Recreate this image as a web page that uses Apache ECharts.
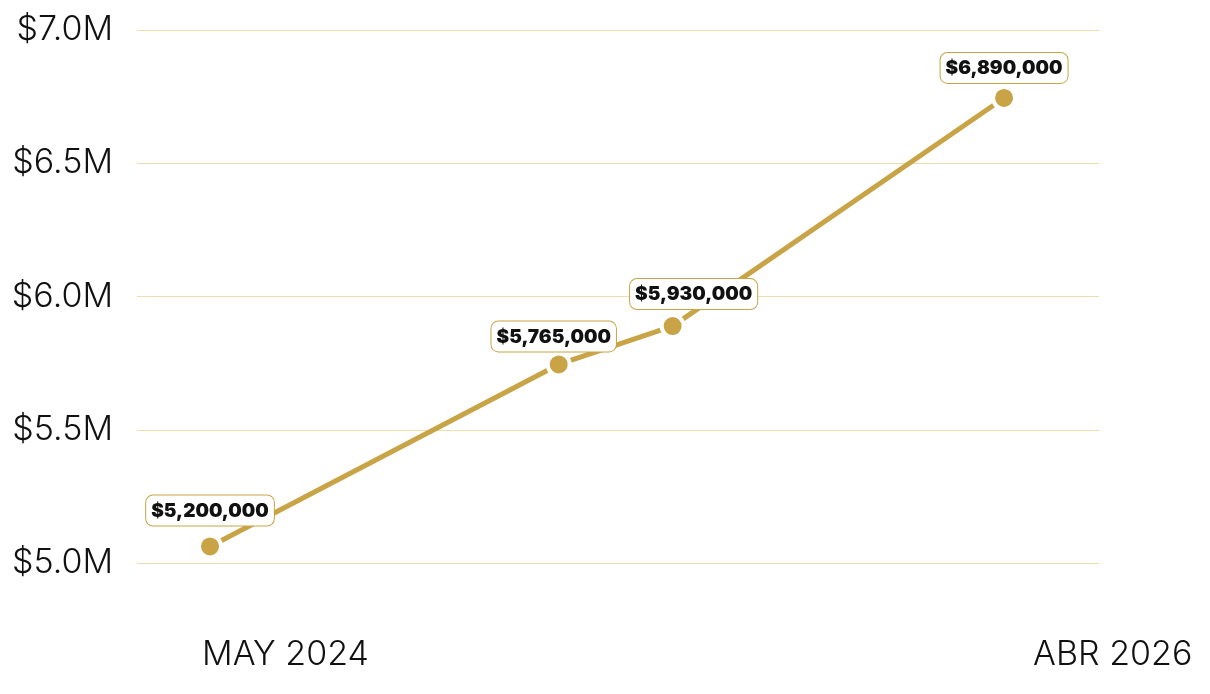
<!DOCTYPE html>
<html>
<head>
<meta charset="utf-8">
<script src="https://cdn.jsdelivr.net/npm/echarts@6/dist/echarts.min.js"></script>
<style>html,body{margin:0;padding:0;background:#fff}#c{width:1210px;height:694px}</style>
</head>
<body>
<div id="c"></div>
<script>
// Months since MAY 2024 (estimated positions of the points)
const monthOffsets = [0, 10.1, 13.4, 23];
// Plotted values (read from the vertical position of the points)
const values = [5062000, 5745000, 5889000, 6745000];
// Text shown in the callouts
const valueLabels = ['$5,200,000', '$5,765,000', '$5,930,000', '$6,890,000'];
// X-axis tick labels and their month offsets
const xTickLabels = ['MAY 2024', 'ABR 2026'];
const xTickMonths = [-0.23, 23.84];
// Y ticks
const yMin = 5000000, yMax = 7000000, yStep = 500000;

const gold = '#C9A446';
const labelOffsets = [[0, 2], [-5, 10], [21, 6], [0, 8]];

const chart = echarts.init(document.getElementById('c'));
chart.setOption({
  animation: false,
  backgroundColor: '#ffffff',
  grid: { left: 137, right: 111, top: 30, bottom: 131 },
  xAxis: {
    type: 'value',
    min: -2.115,
    max: 25.75,
    splitLine: { show: false },
    axisLine: { show: false },
    axisTick: { show: false },
    axisLabel: {
      customValues: xTickMonths,
      formatter: (v) => {
        const i = xTickMonths.findIndex(m => Math.abs(m - v) < 1e-6);
        return i >= 0 ? xTickLabels[i] : '';
      },
      align: 'left',
      margin: 75,
      color: '#111111',
      fontFamily: 'Inter',
      fontWeight: 300,
      fontSize: 34
    }
  },
  yAxis: {
    type: 'value',
    min: yMin,
    max: yMax,
    interval: yStep,
    axisLine: { show: false },
    axisTick: { show: false },
    splitLine: { lineStyle: { color: '#EEDDAE', width: 1 } },
    axisLabel: {
      formatter: (v) => '$' + (v / 1000000).toFixed(1) + 'M',
      margin: 24,
      color: '#111111',
      fontFamily: 'Inter',
      fontWeight: 300,
      fontSize: 34
    }
  },
  series: [{
    type: 'line',
    data: monthOffsets.map((m, i) => ({
      value: [m, values[i]],
      label: { offset: labelOffsets[i] }
    })),
    lineStyle: { color: gold, width: 5 },
    symbol: 'circle',
    symbolSize: 22,
    itemStyle: { color: gold, borderColor: '#ffffff', borderWidth: 4 },
    label: {
      show: true,
      position: 'top',
      distance: 10,
      formatter: (p) => valueLabels[p.dataIndex],
      color: '#111111',
      fontFamily: 'Inter',
      fontWeight: 900,
      fontSize: 19,
      backgroundColor: '#ffffff',
      borderColor: gold,
      borderWidth: 1,
      borderRadius: 7,
      padding: [6, 5, 5, 5]
    },
    z: 3
  }]
});
</script>
</body>
</html>
